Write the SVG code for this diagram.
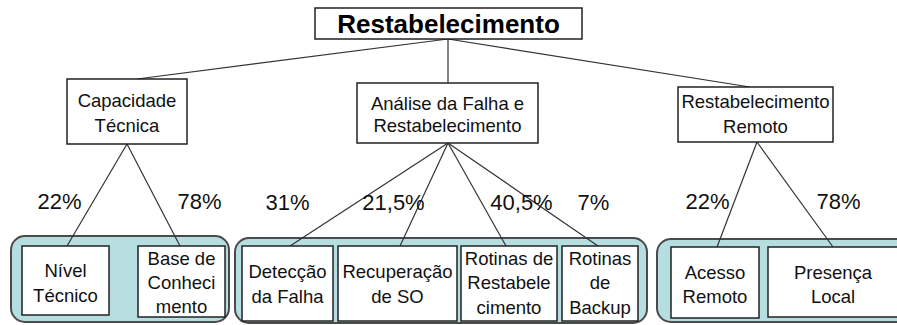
<svg xmlns="http://www.w3.org/2000/svg" width="897" height="325" viewBox="0 0 897 325">
<style>
.bg{fill:#ffffff}
.grp{fill:#b6dde0;stroke:#4a4a4a;stroke-width:2}
.box{fill:#ffffff;stroke:#222222;stroke-width:1.5}
.t{font-family:"Liberation Sans",Arial,sans-serif;font-size:18.5px;fill:#111111;text-anchor:middle}
.p{font-family:"Liberation Sans",Arial,sans-serif;font-size:22px;fill:#111111;text-anchor:middle}
.root{font-family:"Liberation Sans",Arial,sans-serif;font-size:26px;font-weight:bold;fill:#000000;text-anchor:middle}
.c{stroke:#333333;stroke-width:1.2;fill:none}
</style>
<rect class="bg" x="0" y="0" width="897" height="325"/>
<g id="containers">
<rect class="grp" x="11" y="236" width="218" height="86" rx="14"/>
<rect class="grp" x="235" y="238" width="412" height="85" rx="14"/>
<rect class="grp" x="657" y="239" width="260" height="83" rx="14"/>
</g>
<g id="connectors">
<line class="c" x1="448" y1="39" x2="137" y2="79"/>
<line class="c" x1="448" y1="39" x2="448" y2="83"/>
<line class="c" x1="448" y1="39" x2="750" y2="87"/>
<line class="c" x1="127" y1="144" x2="67" y2="246"/>
<line class="c" x1="127" y1="144" x2="180" y2="246"/>
<line class="c" x1="448" y1="143" x2="290" y2="246"/>
<line class="c" x1="448" y1="143" x2="400" y2="246"/>
<line class="c" x1="448" y1="143" x2="506" y2="246"/>
<line class="c" x1="448" y1="143" x2="598" y2="246"/>
<line class="c" x1="757" y1="142" x2="717" y2="247"/>
<line class="c" x1="757" y1="142" x2="833" y2="247"/>
</g>
<g id="labels">
<text class="p" x="59.5" y="209">22%</text>
<text class="p" x="199.5" y="209">78%</text>
<text class="p" x="287.5" y="210">31%</text>
<text class="p" x="393.5" y="210">21,5%</text>
<text class="p" x="521.5" y="210">40,5%</text>
<text class="p" x="593.5" y="210">7%</text>
<text class="p" x="707.5" y="209">22%</text>
<text class="p" x="838.5" y="209">78%</text>
</g>
<g id="root">
<rect class="box" x="315" y="8" width="267" height="31"/>
<text class="root" x="448.5" y="33">Restabelecimento</text>
</g>
<g id="capacidade">
<rect class="box" x="67" y="79" width="120" height="65"/>
<text class="t" x="127" y="106.5">Capacidade</text>
<text class="t" x="127" y="131.5">Técnica</text>
</g>
<g id="analise">
<rect class="box" x="357" y="83" width="181" height="60"/>
<text class="t" x="447.5" y="110">Análise da Falha e</text>
<text class="t" x="447.5" y="132">Restabelecimento</text>
</g>
<g id="remoto">
<rect class="box" x="678" y="87" width="155" height="55"/>
<text class="t" x="755.5" y="108">Restabelecimento</text>
<text class="t" x="755.5" y="133">Remoto</text>
</g>
<g id="nivel">
<rect class="box" x="22" y="246" width="87" height="69"/>
<text class="t" x="65.5" y="277">Nível</text>
<text class="t" x="65.5" y="302">Técnico</text>
</g>
<g id="base">
<rect class="box" x="138" y="246" width="87" height="71"/>
<text class="t" x="181.5" y="265">Base de</text>
<text class="t" x="181.5" y="289">Conheci</text>
<text class="t" x="181.5" y="313">mento</text>
</g>
<g id="deteccao">
<rect class="box" x="242" y="246" width="91" height="75"/>
<text class="t" x="287.5" y="278">Detecção</text>
<text class="t" x="287.5" y="303">da Falha</text>
</g>
<g id="recuperacao">
<rect class="box" x="338" y="246" width="119" height="75"/>
<text class="t" x="397.5" y="278">Recuperação</text>
<text class="t" x="397.5" y="303">de SO</text>
</g>
<g id="rotinas-restabelecimento">
<rect class="box" x="461" y="246" width="96" height="75"/>
<text class="t" x="509" y="265">Rotinas de</text>
<text class="t" x="509" y="289">Restabele</text>
<text class="t" x="509" y="314">cimento</text>
</g>
<g id="rotinas-backup">
<rect class="box" x="562" y="246" width="76" height="75"/>
<text class="t" x="600" y="265">Rotinas</text>
<text class="t" x="600" y="289">de</text>
<text class="t" x="600" y="314">Backup</text>
</g>
<g id="acesso">
<rect class="box" x="671" y="247" width="88" height="71"/>
<text class="t" x="715" y="279">Acesso</text>
<text class="t" x="715" y="303">Remoto</text>
</g>
<g id="presenca">
<rect class="box" x="768" y="247" width="140" height="70"/>
<text class="t" x="833" y="279">Presença</text>
<text class="t" x="833" y="303">Local</text>
</g>
</svg>
